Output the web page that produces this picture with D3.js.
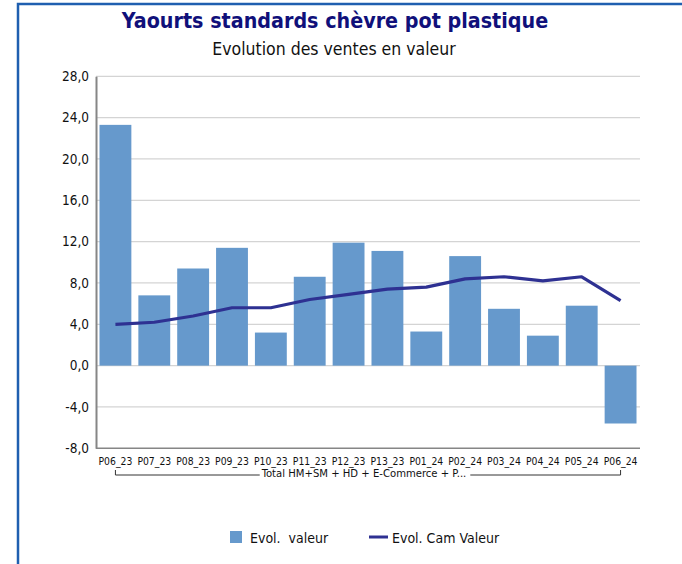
<!DOCTYPE html>
<html>
<head>
<meta charset="utf-8">
<script src="https://cdn.jsdelivr.net/npm/d3@7"></script>
<style>
  html, body { margin: 0; padding: 0; background: #fff; }
  svg { display: block; }
  text { white-space: pre; }
</style>
</head>
<body>
<svg id="chart" width="682" height="564"></svg>
<script>
// Periods on the x axis
const categories = ["P06_23","P07_23","P08_23","P09_23","P10_23","P11_23","P12_23",
                    "P13_23","P01_24","P02_24","P03_24","P04_24","P05_24","P06_24"];
// Evol. valeur (bars)
const evolValeur = [23.3, 6.8, 9.4, 11.4, 3.2, 8.6, 11.9, 11.1, 3.3, 10.6, 5.5, 2.9, 5.8, -5.6];
// Evol. Cam Valeur (line)
const evolCam = [4.0, 4.2, 4.8, 5.6, 5.6, 6.4, 6.9, 7.4, 7.6, 8.4, 8.6, 8.2, 8.6, 6.3];
// Y tick values
const yTicks = [-8, -4, 0, 4, 8, 12, 16, 20, 24, 28];
const groupLabel = "Total HM+SM + HD + E-Commerce + P...";
const seriesNames = ["Evol.  valeur", "Evol. Cam Valeur"];
const titleText = "Yaourts standards chèvre pot plastique";
const subtitleText = "Evolution des ventes en valeur";

const barColor = "#6699cc";
const lineColor = "#2e3192";
const font = "'DejaVu Sans Condensed', 'DejaVu Sans', sans-serif";

const svg = d3.select("#chart");

// Outer frame (left and top edges)
svg.append("path")
  .attr("d", "M18,564 V4 H682")
  .attr("fill", "none")
  .attr("stroke", "#1f5fb0")
  .attr("stroke-width", 2.5);

// Titles
svg.append("text")
  .attr("x", 335).attr("y", 28)
  .attr("text-anchor", "middle")
  .attr("font-family", font)
  .attr("font-weight", "bold")
  .attr("font-size", 21.3)
  .attr("fill", "#10107a")
  .text(titleText);

svg.append("text")
  .attr("x", 334).attr("y", 55)
  .attr("text-anchor", "middle")
  .attr("font-family", font)
  .attr("font-size", 17.5)
  .attr("fill", "#111")
  .text(subtitleText);

// Scales
const x = d3.scaleBand()
  .domain(categories)
  .range([96, 640])
  .paddingInner(0.18)
  .paddingOuter(0.09);

const y = d3.scaleLinear()
  .domain([-8, 28])
  .range([448.3, 76.3]);

// Gridlines
svg.append("g")
  .selectAll("line")
  .data(yTicks.filter(t => t !== -8))
  .join("line")
  .attr("x1", 96).attr("x2", 640)
  .attr("y1", d => y(d)).attr("y2", d => y(d))
  .attr("stroke", "#d4d4d4")
  .attr("stroke-width", 1.3);

// Y axis
const yAxis = d3.axisLeft(y)
  .tickValues(yTicks)
  .tickSize(0)
  .tickPadding(7)
  .tickFormat(d => d3.format(".1f")(d).replace(".", ",").replace("−", "-"));

const gy = svg.append("g")
  .attr("transform", "translate(96,0)")
  .call(yAxis);
gy.select(".domain").attr("stroke", "#868686").attr("stroke-width", 2);
gy.selectAll("text")
  .attr("font-family", font)
  .attr("font-size", 13.5)
  .attr("fill", "#111");

// Bars
svg.append("g")
  .selectAll("rect")
  .data(evolValeur)
  .join("rect")
  .attr("x", (d, i) => x(categories[i]))
  .attr("width", x.bandwidth())
  .attr("y", d => y(Math.max(0, d)))
  .attr("height", d => Math.abs(y(d) - y(0)))
  .attr("fill", barColor);

// Line
const line = d3.line()
  .x((d, i) => x(categories[i]) + x.bandwidth() / 2)
  .y(d => y(d));

svg.append("path")
  .datum(evolCam)
  .attr("d", line)
  .attr("fill", "none")
  .attr("stroke", lineColor)
  .attr("stroke-width", 3.2)
  .attr("stroke-linejoin", "round");

// X axis (bottom at -8)
const xAxis = d3.axisBottom(x).tickSize(0).tickPadding(9);
const gx = svg.append("g")
  .attr("transform", `translate(0,${y(-8)})`)
  .call(xAxis);
gx.select(".domain").attr("d", "M96,0H640").attr("stroke", "#868686").attr("stroke-width", 1.5);
gx.selectAll("text")
  .attr("font-family", font)
  .attr("font-size", 10.3)
  .attr("fill", "#111");

// Group bracket under the period labels
const cx0 = x(categories[0]) + x.bandwidth() / 2;
const cx1 = x(categories[categories.length - 1]) + x.bandwidth() / 2;
const by = 475;
const labelG = svg.append("text")
  .attr("x", (cx0 + cx1) / 2 - 4).attr("y", 477)
  .attr("text-anchor", "middle")
  .attr("font-family", font)
  .attr("font-size", 11.2)
  .attr("fill", "#111")
  .text(groupLabel);
const bb = labelG.node().getBBox();
svg.append("path")
  .attr("d", `M${cx0},470V${by}H${bb.x - 1}M${bb.x + bb.width + 4},${by}H${cx1}V470`)
  .attr("fill", "none")
  .attr("stroke", "#333")
  .attr("stroke-width", 1);

// Legend
const lg = svg.append("g").attr("font-family", font).attr("font-size", 14).attr("fill", "#111");
lg.append("rect").attr("x", 230).attr("y", 531).attr("width", 12).attr("height", 12).attr("fill", barColor);
lg.append("text").attr("x", 250).attr("y", 543).attr("xml:space", "preserve").text(seriesNames[0]);
lg.append("line").attr("x1", 369).attr("x2", 388).attr("y1", 537).attr("y2", 537)
  .attr("stroke", lineColor).attr("stroke-width", 3);
lg.append("text").attr("x", 392).attr("y", 543).text(seriesNames[1]);
</script>
</body>
</html>
